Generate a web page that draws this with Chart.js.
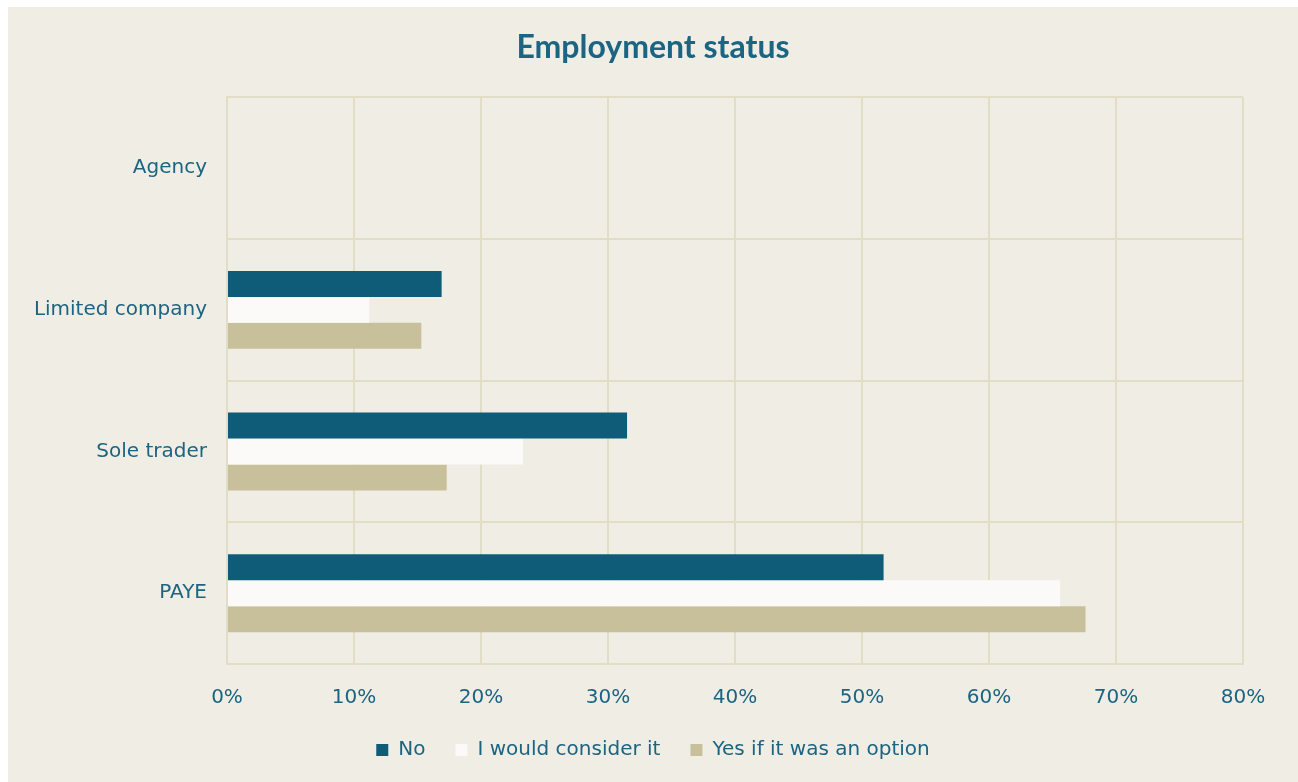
<!DOCTYPE html>
<html>
<head>
<meta charset="utf-8">
<script src="https://cdn.jsdelivr.net/npm/chart.js@4/dist/chart.umd.min.js"></script>
<style>
  html, body { margin: 0; padding: 0; background: #ffffff; }
  #panel { position: absolute; left: 8px; top: 7px; width: 1290px; height: 775px; background: #f0ede5; }
  #chart { display: block; }
</style>
</head>
<body>
<div id="panel"><canvas id="chart" width="1290" height="775"></canvas></div>
<script>
const categories = ['Agency', 'Limited company', 'Sole trader', 'PAYE'];
const seriesNames = ['No', 'I would consider it', 'Yes if it was an option'];
const noValues = [0, 16.9, 31.5, 51.7];
const considerValues = [0, 11.2, 23.3, 65.6];
const yesValues = [0, 15.3, 17.3, 67.6];
const xTicks = [0, 10, 20, 30, 40, 50, 60, 70, 80];

const textColor = '#1b6482';
const gridColor = '#e2ddc5';
const bodyFont = "'DejaVu Sans', sans-serif";
const titleFont = "'Lato', 'DejaVu Sans', sans-serif";

// Centre the title and legend across the whole canvas and tighten the legend block.
const blockLayout = {
  id: 'blockLayout',
  beforeInit(chart) {
    const legend = chart.legend;
    const fit = legend.fit.bind(legend);
    legend.fit = function () { fit(); this.height -= 18; };
  },
  afterLayout(chart) {
    const w = chart.width;
    [chart.titleBlock, chart.legend].forEach(b => { b.left = 0; b.right = w; b.width = w; });
    const lg = chart.legend;
    lg.top -= 22;
    lg.bottom = chart.height;
    lg.height = lg.bottom - lg.top;
  }
};

new Chart(document.getElementById('chart'), {
  type: 'bar',
  data: {
    labels: categories,
    datasets: [
      { label: seriesNames[0], data: noValues, backgroundColor: '#0e5c78' },
      { label: seriesNames[1], data: considerValues, backgroundColor: '#fbfaf8' },
      { label: seriesNames[2], data: yesValues, backgroundColor: '#c8c09a' }
    ]
  },
  plugins: [blockLayout],
  options: {
    indexAxis: 'y',
    responsive: false,
    animation: false,
    datasets: { bar: { barPercentage: 1.0, categoryPercentage: 0.55 } },
    layout: { padding: { left: 0, right: 55, top: 0, bottom: 8 } },
    plugins: {
      title: {
        display: true,
        text: 'Employment status',
        color: textColor,
        font: { family: titleFont, size: 32, weight: 'bold' },
        padding: { top: 21, bottom: 31 }
      },
      legend: {
        position: 'bottom',
        labels: {
          color: textColor,
          font: { family: bodyFont, size: 20 },
          boxWidth: 12,
          boxHeight: 12,
          padding: 30
        }
      },
      tooltip: { enabled: false }
    },
    scales: {
      x: {
        min: 0,
        max: 80,
        afterBuildTicks(scale) { scale.ticks = xTicks.map(v => ({ value: v })); },
        ticks: {
          color: textColor,
          font: { family: bodyFont, size: 20 },
          padding: 22,
          callback: v => v + '%'
        },
        grid: { color: gridColor, lineWidth: 2, drawTicks: false },
        border: { display: true, color: gridColor, width: 2 }
      },
      y: {
        afterFit(scale) { scale.width = 219; },
        ticks: {
          color: textColor,
          font: { family: bodyFont, size: 20 },
          padding: 20
        },
        grid: { color: gridColor, lineWidth: 2, drawTicks: false },
        border: { display: true, color: gridColor, width: 2 }
      }
    }
  }
});
</script>
</body>
</html>
